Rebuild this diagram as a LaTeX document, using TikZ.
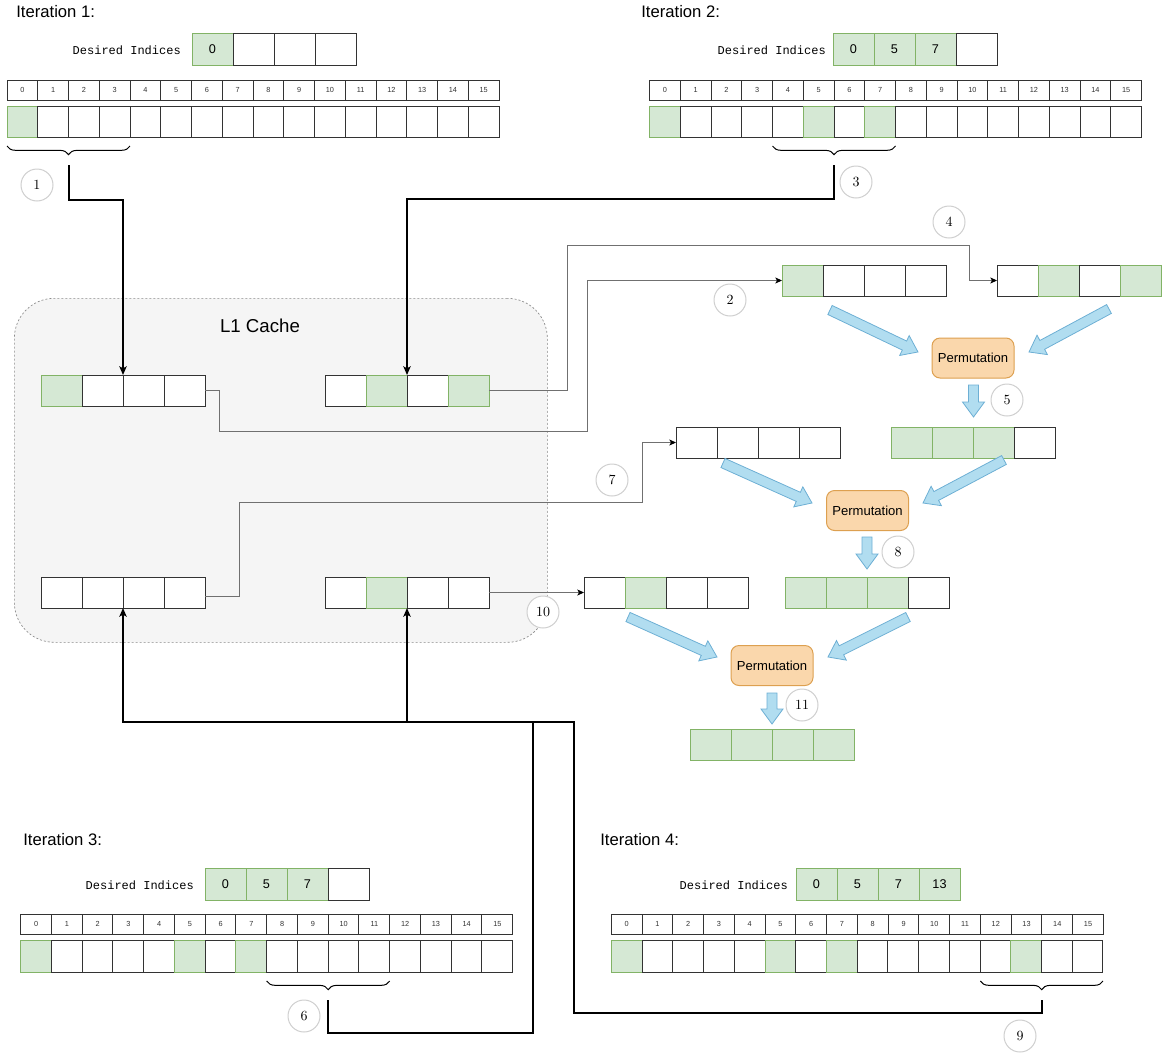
\documentclass[tikz,border=0pt]{standalone}
\usepackage{fontspec}
\setsansfont{Liberation Sans}
\setmonofont{Liberation Mono}
\usetikzlibrary{arrows.meta,decorations.pathreplacing,calc}
\definecolor{cellG}{HTML}{D5E8D4}
\definecolor{cellGd}{HTML}{82B366}
\definecolor{cellW}{HTML}{FFFFFF}
\definecolor{cellWd}{HTML}{333333}
\definecolor{cachefill}{HTML}{F5F5F5}
\definecolor{cachedraw}{HTML}{8A8A8A}
\definecolor{circdraw}{HTML}{CFCFCF}
\definecolor{pfill}{HTML}{FAD7AC}
\definecolor{pdraw}{HTML}{DDA050}
\definecolor{bfill}{HTML}{B1DDF0}
\definecolor{bdraw}{HTML}{6DAFD4}
\definecolor{lgray}{HTML}{707070}

% row of cells with text: name, x, y, cell width, height, font style, list of colour/text
\newcommand\cellrow[7]{%
  \foreach \s/\t [count=\i from 0] in {#7} {%
    \node[cellbase, #6, fill=cell\s, draw=cell\s d, minimum width={#4*0.75pt}, minimum height={#5*0.75pt}, anchor=north west] (#1-\i) at ({#2+\i*#4},#3) {\t};
  }%
}
% row of empty cells: name, x, y, cell width, height, list of colours
\newcommand\plainrow[6]{%
  \foreach \s [count=\i from 0] in {#6} {%
    \node[cellbase, fill=cell\s, draw=cell\s d, minimum width={#4*0.75pt}, minimum height={#5*0.75pt}, anchor=north west] (#1-\i) at ({#2+\i*#4},#3) {};
  }%
}
% index row 0..15
\newcommand\idxrow[3]{%
  \foreach \i in {0,...,15} {%
    \node[cellbase, ifont, fill=white, draw=cellWd, minimum width={30.75*0.75pt}, minimum height={20*0.75pt}, anchor=north west] (#1-\i) at ({#2+\i*30.75},#3) {\i};
  }%
}
% block arrow: name, x1, y1, x2, y2 (px, y downward)
\newcommand\barrow[5]{%
  \pgfmathsetmacro\bang{atan2(-(#5-#3),#4-#2)}%
  \pgfmathsetmacro\blen{veclen(#4-#2,#5-#3)}%
  \coordinate (#1) at (#2,#3);
  \draw[blockarrow, shift={(#1)}, rotate=\bang] (0,-5) -- ({\blen-15},-5) -- ({\blen-15},-11) -- (\blen,0) -- ({\blen-15},11) -- ({\blen-15},5) -- (0,5) -- cycle;
}

\begin{document}
\begin{tikzpicture}[x=0.75pt,y=-0.75pt,
  cellbase/.style={rectangle, inner sep=0pt, outer sep=0pt, line width=0.75pt},
  ifont/.style={font=\sffamily\fontsize{5.5}{6}\selectfont, text=black!80},
  dfont/.style={font=\sffamily\fontsize{9.5}{11}\selectfont},
  title/.style={font=\sffamily\fontsize{12.5}{14}\selectfont, anchor=west, inner sep=0pt},
  desired/.style={font=\ttfamily\fontsize{9}{10}\selectfont, anchor=east, inner sep=0pt},
  numc/.style={circle, draw=circdraw, fill=white, line width=0.75pt, minimum size=24pt, inner sep=0pt, font=\fontsize{10.5}{12}\selectfont},
  perm/.style={rectangle, rounded corners=6pt, draw=pdraw, fill=pfill, line width=0.75pt, minimum width=61.5pt, minimum height=30pt, inner sep=0pt, font=\sffamily\fontsize{9.8}{11}\selectfont},
  blockarrow/.style={fill=bfill, draw=bdraw, line width=0.6pt, line join=miter},
  thickconn/.style={draw=black, line width=1.1pt, -{Stealth[length=6.5pt,width=5.5pt,inset=1.5pt]}},
  thinconn/.style={draw=lgray, line width=0.75pt, -{Stealth[length=5pt,width=4.5pt,inset=1.2pt,black]}},
  bracestyle/.style={draw=black, line width=0.75pt, decorate, decoration={brace, mirror, amplitude=6.5pt}}
]
\useasboundingbox (0,0) rectangle (1166,1053);

% L1 cache region
\node[rectangle, rounded corners=30pt, fill=cachefill, draw=cachedraw, dash pattern=on 1.5pt off 1.5pt, line width=0.5pt, minimum width={533*0.75pt}, minimum height={344*0.75pt}, anchor=north west, inner sep=0pt] (cache) at (14,298) {};
\node[font=\sffamily\fontsize{14}{16}\selectfont] (cachetitle) at (260,326) {L1 Cache};

% ---------- Iteration 1
\node[title] (it1) at (16,12) {Iteration 1:};
\node[desired] (dl1) at (181,50) {Desired Indices};
\cellrow{d1}{192}{33}{41}{32}{dfont}{G/0,W/{},W/{},W/{}}
\idxrow{i1}{7}{80}
\plainrow{r1}{7}{106}{30.75}{31}{G,W,W,W,W,W,W,W,W,W,W,W,W,W,W,W}
\draw[bracestyle] (7,146) -- (130,146);
\coordinate (t1) at (69,165);

% ---------- Iteration 2
\node[title] (it2) at (641,12) {Iteration 2:};
\node[desired] (dl2) at (826,50) {Desired Indices};
\cellrow{d2}{833}{33}{41}{32}{dfont}{G/0,G/5,G/7,W/{}}
\idxrow{i2}{649.5}{80}
\plainrow{r2}{649.5}{106}{30.75}{31}{G,W,W,W,W,G,W,G,W,W,W,W,W,W,W,W}
\draw[bracestyle] (772.5,146) -- (895.5,146);
\coordinate (t3) at (834,165);

% ---------- Iteration 3
\node[title] (it3) at (23,840) {Iteration 3:};
\node[desired] (dl3) at (194,885) {Desired Indices};
\cellrow{d3}{205}{868}{41}{32}{dfont}{G/0,G/5,G/7,W/{}}
\idxrow{i3}{20.7}{914}
\plainrow{r3}{20.7}{940}{30.75}{32}{G,W,W,W,W,G,W,G,W,W,W,W,W,W,W,W}
\draw[bracestyle] (266.7,981) -- (389.7,981);
\coordinate (t6) at (328,1000);

% ---------- Iteration 4
\node[title] (it4) at (600,840) {Iteration 4:};
\node[desired] (dl4) at (788,885) {Desired Indices};
\cellrow{d4}{796}{868}{41}{32}{dfont}{G/0,G/5,G/7,G/13}
\idxrow{i4}{611.4}{914}
\plainrow{r4}{611.4}{940}{30.72}{32}{G,W,W,W,W,G,W,G,W,W,W,W,W,G,W,W}
\draw[bracestyle] (980.4,981) -- (1103,981);
\coordinate (t9) at (1042,1000);

% ---------- cache lines
\plainrow{a1}{41}{375}{41}{31}{G,W,W,W}
\plainrow{a2}{325}{375}{41}{31}{W,G,W,G}
\plainrow{b1}{41}{577}{41}{31}{W,W,W,W}
\plainrow{b2}{325}{577}{41}{31}{W,G,W,W}

% ---------- right side blocks
\plainrow{p1}{782}{265}{41}{31}{G,W,W,W}
\plainrow{p2}{997}{265}{41}{31}{W,G,W,G}
\plainrow{q1}{676}{427}{41}{31}{W,W,W,W}
\plainrow{s1}{891}{427}{41}{31}{G,G,G,W}
\plainrow{rr}{584}{577}{41}{31}{W,G,W,W}
\plainrow{s2}{785}{577}{41}{31}{G,G,G,W}
\plainrow{f}{690}{729}{41}{31}{G,G,G,G}

\node[perm] (perm1) at (973,358) {Permutation};
\node[perm] (perm2) at (867.5,510.5) {Permutation};
\node[perm] (perm3) at (772,665.5) {Permutation};

% ---------- block arrows
\barrow{ba1}{830}{310}{918}{352}
\barrow{ba2}{1109}{309}{1029}{352}
\barrow{ba3}{973.5}{385}{973.5}{417}
\barrow{ba4}{723}{463}{812}{503}
\barrow{ba5}{1004}{460}{923}{503}
\barrow{ba6}{867}{537}{867}{569}
\barrow{ba7}{628}{617}{717}{657}
\barrow{ba8}{908}{617}{828}{657}
\barrow{ba9}{772}{693}{772}{724}

% ---------- connectors
\draw[thickconn] (t1) -- (69,200) -| (a1-1.north east);
\draw[thickconn] (t3) -- (834,199) -| (a2-1.north east);
\draw[thickconn] (t6) -- (328,1033) -- (533,1033) -- (533,722) -| (b1-1.south east);
\draw[thickconn] (t9) -- (1042,1013) -- (574,1013) -- (574,722) -| (b2-1.south east);

\draw[thinconn] (a1-3.east) -| (219,431) -- (587,431) |- (p1-0.west);
\draw[thinconn] (a2-3.east) -| (567,245) -- (969,245) |- (p2-0.west);
\draw[thinconn] ([yshift=-3pt]b1-3.east) -| (239,502) -- (642,502) |- (q1-0.west);
\draw[thinconn] (b2-3.east) -- (rr-0.west);

% ---------- step numbers
\node[numc] (n1) at (37,185) {1};
\node[numc] (n2) at (730,300) {2};
\node[numc] (n3) at (856,182) {3};
\node[numc] (n4) at (949,222) {4};
\node[numc] (n5) at (1007,400) {5};
\node[numc] (n6) at (304,1016) {6};
\node[numc] (n7) at (612,480) {7};
\node[numc] (n8) at (898,552) {8};
\node[numc] (n9) at (1020,1036) {9};
\node[numc] (n10) at (543,612) {10};
\node[numc] (n11) at (802,705) {11};
\end{tikzpicture}
\end{document}
